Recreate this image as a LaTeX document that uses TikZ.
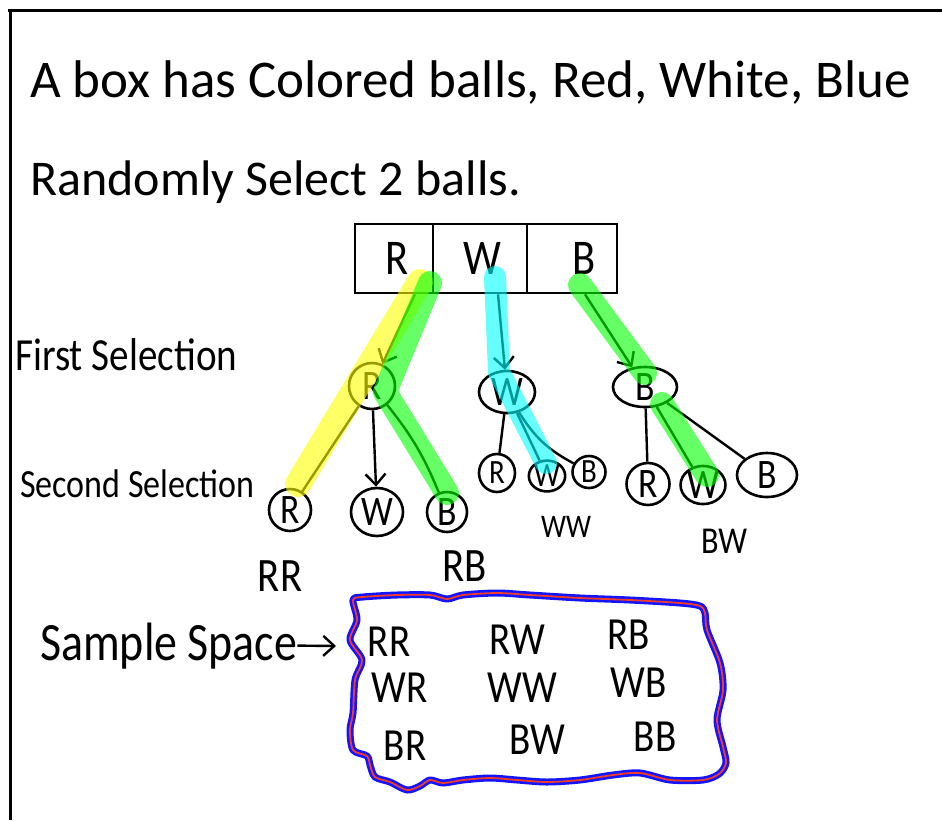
\documentclass[tikz,border=0pt]{standalone}
\usepackage{fontspec}
\setmainfont{Carlito}
\newfontfamily\hand[FakeStretch=0.85]{Carlito}
\usetikzlibrary{shapes.geometric,arrows.meta,calc}
\newcommand\fsz[1]{\fontsize{#1}{#1}\selectfont}
\definecolor{hlyellow}{RGB}{255,255,0}
\definecolor{hlgreen}{RGB}{0,255,0}
\definecolor{hlcyan}{RGB}{0,255,255}
\definecolor{boxblue}{RGB}{20,20,255}
\definecolor{boxred}{RGB}{240,60,40}
\begin{document}
\begin{tikzpicture}[x=1pt,y=-1pt,
 ball/.style={draw, line width=2.6pt, ellipse, inner sep=0pt, font=\hand\fsz{42}},
 smallball/.style={ball, font=\hand\fsz{34}},
 cell/.style={draw, line width=2.6pt, rectangle, minimum height=69pt, inner sep=0pt, font=\hand\fsz{50}},
 conn/.style={line width=2.4pt},
 arr/.style={conn, -{Straight Barb[length=11pt,width=20pt]}},
 lbl/.style={inner sep=0pt, font=\hand\fsz{48}},
 entry/.style={inner sep=0pt, font=\hand\fsz{46}},
 hl/.style={line cap=round, line join=round, opacity=0.6},
 frame/.style={line width=3pt}
 ]
\useasboundingbox (0,0) rectangle (942,820);
% frame
\draw[frame] (8,10) -- (942,10);
\draw[frame] (10,10) -- (10,820);

% texts
\node[anchor=base west, inner sep=0pt, font=\fsz{53}] (t1) at (30,97) {A box has Colored balls, Red, White, Blue};
\node[anchor=base west, inner sep=0pt, font=\fsz{50}] (t2) at (30,195) {Randomly Select 2 balls.};
\node[anchor=base west, inner sep=0pt, font=\hand\fsz{46}] (fs) at (15,370) {First Selection};
\node[anchor=base west, inner sep=0pt, font=\hand\fsz{40}] (ss) at (20,497) {Second Selection};
\node[anchor=base west, inner sep=0pt, font=\hand\fsz{54}] (sp) at (40,660) {Sample Space};

% the box
\node[cell, minimum width=78pt] (boxR) at (394,258.5) {\hspace{6pt}R};
\node[cell, minimum width=94pt] (boxW) at (480,258.5) {\hspace{4pt}W};
\node[cell, minimum width=90pt] (boxB) at (572,258.5) {\hspace{24pt}B};

% tree nodes
\node[ball, minimum width=46pt, minimum height=46pt] (nR) at (372,386) {R};
\node[ball, minimum width=56pt, minimum height=42pt] (nW) at (507,392) {W};
\node[ball, minimum width=64pt, minimum height=40pt] (nB) at (645,387) {B};
\node[ball, minimum width=42pt, minimum height=42pt] (rR) at (290,510) {R};
\node[ball, minimum width=52pt, minimum height=48pt] (rW) at (377,512) {W};
\node[ball, minimum width=40pt, minimum height=40pt] (rB) at (447,512) {B};
\node[smallball, minimum width=36pt, minimum height=38pt] (wR) at (497,473) {R};
\node[smallball, minimum width=36pt, minimum height=30pt] (wW) at (547,476) {W};
\node[smallball, minimum width=33pt, minimum height=32pt] (wB) at (589,472) {B};
\node[ball, minimum width=43pt, minimum height=42pt] (bR) at (648,484) {R};
\node[ball, minimum width=39pt, minimum height=36pt] (bW) at (703,485) {W};
\node[ball, minimum width=60pt, minimum height=44pt] (bB) at (767,475) {B};

% connectors
\draw[arr] ($(boxR.south)+(21,0)$) -- (nR);
\draw[arr] ($(boxW.south)+(18,0)$) -- (nW);
\draw[arr] ($(boxB.south)+(13,0)$) -- (nB);
\draw[conn] (nR) -- (rR);
\draw[arr] (nR) -- (rW);
\draw[conn] (nR) to[bend left=8] (rB);
\draw[conn] (nW) -- (wR);
\draw[conn] (nW) -- (wW);
\draw[conn] (nW) to[bend right=15] (wB);
\draw[conn] (nB) -- (bR);
\draw[conn] (nB) -- (bW);
\draw[conn] (nB) -- (bB);

% highlights
\draw[hl, hlyellow, line width=26pt] (420,282) -- (298,484);
\draw[hl, hlgreen, line width=24pt] (430,283) -- (385,392) -- (447,493);
\draw[hl, hlcyan, line width=22pt] (495,277) -- (499,372) -- (546,463);
\draw[hl, hlgreen, line width=24pt] (580,285) -- (645,373);
\draw[hl, hlgreen, line width=24pt] (662,404) -- (707,475);

% outcome labels
\node[lbl] (lRR) at (280,576) {RR};
\node[lbl] (lRB) at (465,566) {RB};
\node[lbl, font=\hand\fsz{33}] (lWW) at (566,527) {WW};
\node[lbl, font=\hand\fsz{38}] (lBW) at (724,541) {BW};

% sample space box
\draw[line width=7pt, boxblue, line join=round,
      postaction={draw=boxred, line width=1.8pt}]
  plot[smooth cycle, tension=0.5] coordinates {
  (353,600) (363,597) (397,595) (430,595) (447,599) (463,595) (497,593) (530,595)
  (580,598) (630,600) (680,603) (700,606) (705,613) (707,630) (720,663) (723,690)
  (717,720) (723,747) (726,763) (719,774) (703,780) (670,780) (640,773) (613,775)
  (580,780) (547,782) (517,780) (490,778) (463,780) (443,783) (430,780) (420,786)
  (407,790) (390,782) (375,777) (370,765) (367,756) (353,750) (350,730) (353,713)
  (355,680) (362,660) (350,640) (357,620)};
\coordinate (spin) at (336,646);
\draw[arr] (sp.east) -- (spin);

\node[entry] (e11) at (389,642) {RR};
\node[entry] (e12) at (517,640) {RW};
\node[entry] (e13) at (629,635) {RB};
\node[entry] (e21) at (400,688) {WR};
\node[entry] (e22) at (522,688) {WW};
\node[entry] (e23) at (639,683) {WB};
\node[entry] (e31) at (405,746) {BR};
\node[entry] (e32) at (537,740) {BW};
\node[entry] (e33) at (655,737) {BB};
\end{tikzpicture}
\end{document}
